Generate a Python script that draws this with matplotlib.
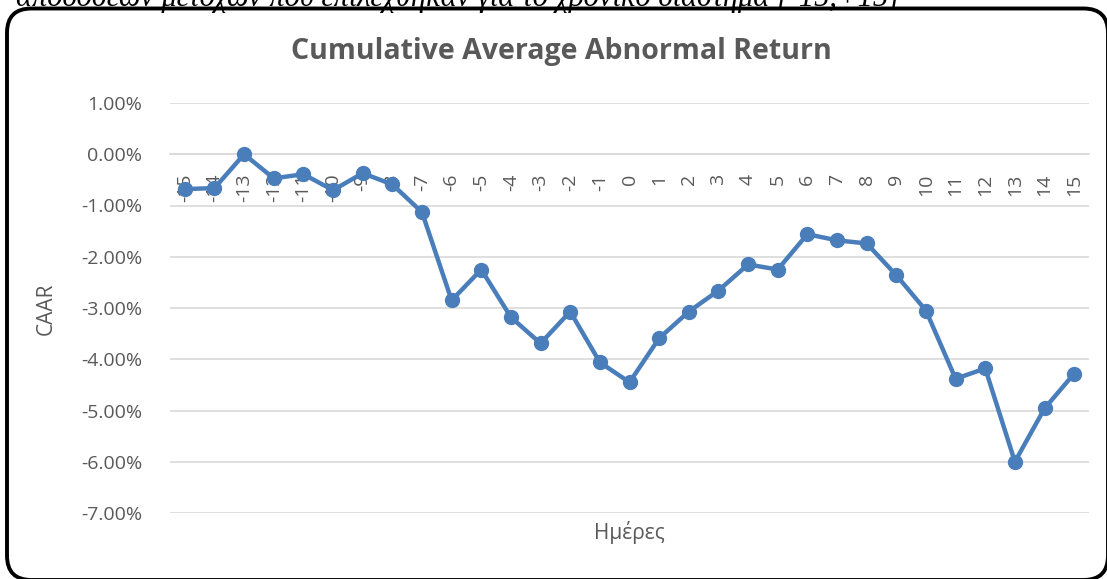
import matplotlib
matplotlib.use("Agg")
import matplotlib.pyplot as plt
from matplotlib.patches import FancyBboxPatch
from matplotlib.ticker import FuncFormatter, MultipleLocator

days = list(range(-15, 16))
caar = [-0.68, -0.66, 0.00, -0.47, -0.39, -0.70, -0.37, -0.59, -1.13, -2.85,
        -2.25, -3.18, -3.69, -3.07, -4.06, -4.45, -3.59, -3.07, -2.66, -2.15,
        -2.25, -1.56, -1.68, -1.74, -2.36, -3.05, -4.38, -4.18, -6.00, -4.96, -4.28]
tick_labels = [str(d) for d in days]

title = "Cumulative Average Abnormal Return"
ylabel = "CAAR"
xlabel = "Ημέρες"
caption = "αποδόσεων μετοχών που επιλέχθηκαν για το χρονικό διάστημα [-15,+15]"

W, H = 1107, 579
fig = plt.figure(figsize=(W / 100, H / 100), dpi=100)
fig.patch.set_facecolor("white")

font = ["Open Sans", "DejaVu Sans"]
gray = "#595959"

# plot area in pixels
L, R, T, B = 170, 1089, 103, 513
ax = fig.add_axes([L / W, 1 - B / H, (R - L) / W, (B - T) / H])
ax.set_facecolor("none")

ax.plot(days, caar, color="#4a7ebb", lw=3.2, marker="o", ms=10, zorder=3,
        solid_joinstyle="round")

ax.set_xlim(-15.5, 15.5)
ax.set_ylim(-7, 1)
ax.yaxis.set_major_locator(MultipleLocator(1))
ax.yaxis.set_major_formatter(FuncFormatter(lambda v, p: f"{v:.2f}%"))
ax.grid(axis="y", color="#d9d9d9", lw=1.2, zorder=0)
for s in ["top", "right", "left"]:
    ax.spines[s].set_visible(False)
ax.spines["bottom"].set_position(("data", 0))
ax.spines["bottom"].set_color("#d9d9d9")
ax.spines["bottom"].set_linewidth(1.2)

ax.set_xticks(days)
ax.set_xticklabels(tick_labels, rotation=90, va="top", ha="center")
ax.tick_params(axis="x", length=0, pad=14, labelsize=14, labelcolor=gray)
ax.tick_params(axis="y", length=0, pad=20, labelsize=14, labelcolor=gray)
for lab in ax.get_xticklabels() + ax.get_yticklabels():
    lab.set_fontfamily(font)

fig.text(561 / W, 1 - 51 / H, title, ha="center", va="center",
         fontsize=20.5, fontweight="bold", color=gray, family=font)
fig.text(46 / W, 1 - 309 / H, ylabel, ha="center", va="center",
         rotation=90, fontsize=15, color=gray, family=font)
fig.text(629.5 / W, 1 - 533 / H, xlabel, ha="center", va="center",
         fontsize=15, color=gray, family=font)

fig.text(900 / W, 1 - 6 / H, caption, ha="right", va="baseline",
         fontsize=22, style="italic", color="black",
         family=["Liberation Serif", "DejaVu Serif"])

box = FancyBboxPatch((7 / W, 1 - 580 / H), (1101) / W, (571.5) / H,
                     boxstyle="round,pad=0,rounding_size=0.022",
                     transform=fig.transFigure, fill=False,
                     edgecolor="black", lw=2.8, mutation_aspect=W / H)
fig.patches.append(box)

fig.savefig("out.png", dpi=100, facecolor="white")
